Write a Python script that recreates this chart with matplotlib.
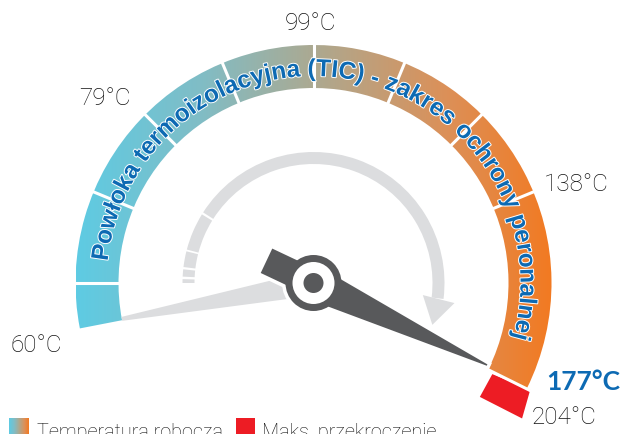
import numpy as np
import matplotlib
matplotlib.use('Agg')
import matplotlib.pyplot as plt
from matplotlib.patches import Wedge, Polygon, Circle, Rectangle, PathPatch
from matplotlib.colors import LinearSegmentedColormap
from matplotlib.font_manager import FontProperties, findfont
from matplotlib.ft2font import FT2Font
import matplotlib.patheffects as pe

# scale labels and where they sit around the dial (angle in degrees, radius in px)
tick_labels = ['60°C', '79°C', '99°C', '138°C', '204°C']
tick_angles = [192.8, 138.5, 90.7, 20.6, -28.2]
tick_radius = [284, 278, 260, 281, 284]

# coloured band, split into segments (degrees, counter-clockwise from +x)
band_edges = [191, 180, 157.5, 135, 112.5, 90, 67.5, 45, 22.5, -26.4]
red_corners = [(200.7, -27.0), (241.6, -26.2), (248.7, -33.0), (201.6, -34.4)]

current_label = '177°C'
needle_angle = -25.3   # 177°C
start_angle = 190.6    # 60°C (light grey needle)

# dashed grey arrow around the hub
arrow_pieces = [(178.3, 180), (174, 177.2), (166, 173), (148.4, 165.2), (-7, 147.4)]

arc_text = 'Powłoka termoizolacyjna (TIC) - zakres ochrony peronalnej'
legend_labels = ['Temperatura robocza', 'Maks. przekroczenie']

grad = LinearSegmentedColormap.from_list('tic', [
    (0.0, '#5ecbe3'), (0.26, '#80bdc6'), (0.5, '#aca991'),
    (0.78, '#dc9058'), (1.0, '#f27a22')])
dark = '#58595b'
light = '#dcdddf'
blue = '#0d6ab3'
red = '#ed1c24'
ink = '#111111'
label_font = 'Roboto'

W, H = 621, 434
cx, cy = 313.5, H - 283
r_out, r_in = 238, 195

def P(r, a):
    a = np.radians(a)
    return (cx + r * np.cos(a), cy + r * np.sin(a))

def taper(a, w0, w1, r1):
    n = np.radians(a + 90)
    dx, dy = np.cos(n), np.sin(n)
    tx, ty = P(r1, a)
    return [(cx + dx * w0 / 2, cy + dy * w0 / 2), (tx + dx * w1 / 2, ty + dy * w1 / 2),
            (tx - dx * w1 / 2, ty - dy * w1 / 2), (cx - dx * w0 / 2, cy - dy * w0 / 2)]

fig = plt.figure(figsize=(W / 100, H / 100), dpi=100)
ax = fig.add_axes([0, 0, 1, 1])
ax.axis('off')

# gradient band
band = Wedge((cx, cy), r_out, band_edges[-1], band_edges[0], width=r_out - r_in)
bp = band.get_path().transformed(band.get_patch_transform())
clip = PathPatch(bp, transform=ax.transData, facecolor='none', edgecolor='none')
ax.add_patch(clip)
im = ax.imshow(np.linspace(0, 1, 256)[None, :], cmap=grad, aspect='auto',
               extent=[cx - r_out, cx + r_out, cy - r_out, cy + r_out], zorder=1)
im.set_clip_path(clip)

ax.add_patch(Polygon([P(r, a) for r, a in red_corners], closed=True,
                     facecolor=red, edgecolor='none', zorder=1))

for a in band_edges[1:]:
    x0, y0 = P(185, a)
    x1, y1 = P(252, a)
    ax.plot([x0, x1], [y0, y1], color='white', lw=2.2, zorder=2,
            solid_capstyle='butt')

# curved label along the band
fprop = FontProperties(family='Liberation Sans', weight='bold')
ft = FT2Font(findfont(fprop))
ft.set_size(100, 72)
adv = []
for ch in arc_text:
    g = ft.load_char(ord(ch))
    adv.append(g.linearHoriAdvance / 65536)
adv = np.array(adv)
r_base = 207
a_first, a_last = 174.0, -15.5
L = np.radians(a_first - a_last) * r_base
scale = L / adv.sum()
size_pt = 100 * scale * 0.72
cum = np.concatenate([[0], np.cumsum(adv * scale)])
for i, ch in enumerate(arc_text):
    if ch == ' ':
        continue
    s = cum[i] + adv[i] * scale / 2
    a = a_first - np.degrees(s / r_base)
    x, y = P(r_base, a)
    ax.text(x, y, ch, rotation=a - 90, rotation_mode='anchor', ha='center',
            va='baseline', fontsize=size_pt, family='Liberation Sans',
            weight='bold', color=blue, zorder=5,
            path_effects=[pe.withStroke(linewidth=1.4, foreground='white')])

# grey dashed arrow
for a1, a2 in arrow_pieces:
    ax.add_patch(Wedge((cx, cy), 131, a1, a2, width=12, facecolor=light,
                       edgecolor='none', zorder=2))
ax.add_patch(Polygon([P(110, -6.3), P(142.4, -8.1), P(126, -19.4)], closed=True,
                     facecolor=light, edgecolor='none', zorder=2))

# light grey needle to 60°C
ax.add_patch(Polygon(taper(start_angle, 25, 4, 195), closed=True,
                     facecolor=light, edgecolor='none', zorder=3))

# dark needle, tail and hub (white outline drawn first, underneath)
shapes = [
    taper(needle_angle, 34, 1.5, 192),
    taper(needle_angle + 180, 27, 27, 52),
]
for zo, ec, lw in [(4, 'white', 5), (4.1, 'none', 0)]:
    for pts in shapes:
        ax.add_patch(Polygon(pts, closed=True, facecolor=dark, edgecolor=ec,
                             lw=lw, zorder=zo, joinstyle='miter'))
    ax.add_patch(Circle((cx, cy), 28, facecolor=dark, edgecolor=ec, lw=lw, zorder=zo))
ax.add_patch(Circle((cx, cy), 21, facecolor='white', edgecolor='none', zorder=4.2))
ax.add_patch(Circle((cx, cy), 10, facecolor=dark, edgecolor='none', zorder=4.3))

# scale labels
for lab, a, r in zip(tick_labels, tick_angles, tick_radius):
    x, y = P(r, a)
    ax.text(x, y, lab, ha='center', va='center', fontsize=17.5, family=label_font,
            weight='light', color=ink, zorder=6)
x, y = P(287.6, -20.1)
ax.text(x, y, current_label, ha='center', va='center', fontsize=19,
        family='Lato', weight='bold', color=blue, zorder=6)

# legend (cut by the bottom edge, as in the original)
ax.imshow(np.linspace(0, 1, 64)[None, :], cmap=grad, aspect='auto',
          extent=[9, 29, -6, H - 418], zorder=6)
ax.add_patch(Rectangle((236, -6), 19, H - 418 + 6, facecolor=red,
                       edgecolor='none', zorder=6))
ax.text(37, -3.5, legend_labels[0], ha='left', va='baseline', fontsize=14.3,
        family=label_font, weight='light', color=ink)
ax.text(262, -3.5, legend_labels[1], ha='left', va='baseline', fontsize=14.3,
        family=label_font, weight='light', color=ink)

ax.set_xlim(0, W)
ax.set_ylim(0, H)
fig.savefig('out.png', dpi=100)
